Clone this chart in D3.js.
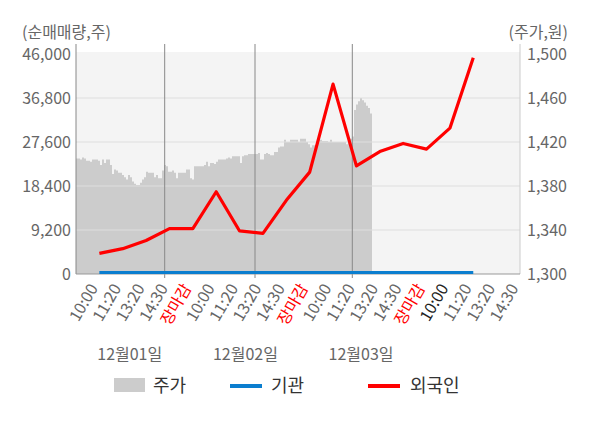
<!DOCTYPE html>
<html>
<head>
  <meta charset="utf-8">
  <script src="https://d3js.org/d3.v7.min.js"></script>
  <title>순매매량 차트</title>
<style>
body {
  margin: 0;
  background: #fff;
}
svg {
  font-family: "Noto Sans CJK KR", "Noto Sans", sans-serif;
}
</style>
</head>
<body>
<script>
// x axis tick labels
var timeLabels = ['10:00', '11:20', '13:20', '14:30', '장마감',
                  '10:00', '11:20', '13:20', '14:30', '장마감',
                  '10:00', '11:20', '13:20', '14:30', '장마감',
                  '10:00', '11:20', '13:20', '14:30'];
var dateLabels = ['12월01일', '12월02일', '12월03일'];
// where the date labels sit, in tick units
var datePos = [1.3, 6.25, 11.2];

var leftTicks = [0, 9200, 18400, 27600, 36800, 46000];
var rightTicks = [1300, 1340, 1380, 1420, 1460, 1500];

// net buying (shares), one value per tick
var foreign = [4300, 5300, 7000, 9500, 9500, 17200, 9000, 8500, 15400, 21300,
               39700, 22600, 25600, 27300, 26100, 30500, 45200];
var institution = [300, 300, 300, 300, 300, 300, 300, 300, 300, 300,
                   300, 300, 300, 300, 300, 300, 300];

// intraday price (won)
var price = [1405, 1405, 1404, 1406, 1405, 1403, 1403, 1402, 1404, 1404,
             1404, 1403, 1399, 1404, 1401, 1404, 1404, 1399, 1391, 1395,
             1394, 1392, 1392, 1390, 1388, 1386, 1390, 1388, 1384, 1382,
             1381, 1381, 1383, 1386, 1388, 1393, 1392, 1392, 1392, 1388,
             1390, 1387, 1387, 1394, 1399, 1398, 1393, 1393, 1394, 1392,
             1387, 1392, 1392, 1392, 1392, 1395, 1395, 1387, 1386, 1398,
             1398, 1398, 1398, 1398, 1399, 1402, 1398, 1401, 1401, 1400,
             1402, 1404, 1404, 1404, 1404, 1405, 1406, 1405, 1407, 1407,
             1407, 1407, 1401, 1407, 1408, 1408, 1409, 1409, 1409, 1409,
             1409, 1410, 1404, 1404, 1409, 1410, 1409, 1408, 1408, 1411,
             1411, 1415, 1416, 1416, 1422, 1420, 1420, 1422, 1422, 1422,
             1422, 1420, 1423, 1423, 1423, 1420, 1418, 1415, 1417, 1417,
             1420, 1423, 1422, 1421, 1421, 1421, 1420, 1422, 1420, 1420,
             1420, 1420, 1420, 1420, 1420, 1418, 1419, 1423, 1425, 1449,
             1454, 1457, 1460, 1458, 1456, 1453, 1451, 1446, 1438];
var priceSlots = 222;
// day boundaries in price index units
var dayBreaks = [44.35, 89.5, 138.15];

var width = 600,
    height = 428;
var plotLeft = 76, plotRight = 520, plotTop = 54, plotBottom = 274;

var svg = d3.select('body').append('svg')
  .attr('width', width)
  .attr('height', height);

var x = d3.scaleLinear().domain([-1, timeLabels.length - 1]).range([plotLeft, plotRight]);
var xp = d3.scaleLinear().domain([0, priceSlots]).range([plotLeft, plotRight]);
var yl = d3.scaleLinear().domain([0, 46000]).range([plotBottom, plotTop]);
var yr = d3.scaleLinear().domain([1300, 1500]).range([plotBottom, plotTop]);

// plot background
svg.append('rect')
  .attr('x', plotLeft)
  .attr('y', 52)
  .attr('width', plotRight - plotLeft)
  .attr('height', plotBottom - 52)
  .style('fill', '#f4f4f4');

// price area
var area = d3.area()
  .x(function (d, i) { return xp(i); })
  .y0(plotBottom)
  .y1(function (d) { return yr(d); })
  .curve(d3.curveStepAfter);

svg.append('path')
  .datum(price)
  .attr('d', area)
  .style('fill', '#cccccc');

// horizontal grid
svg.selectAll('.grid')
  .data(leftTicks.slice(1, -1))
  .enter()
  .append('line')
  .attr('x1', plotLeft)
  .attr('x2', plotRight)
  .attr('y1', function (d) { return yl(d); })
  .attr('y2', function (d) { return yl(d); })
  .style('stroke', '#dddddd')
  .style('stroke-width', 1.2);

// day separators
svg.selectAll('.day')
  .data(dayBreaks)
  .enter()
  .append('line')
  .attr('x1', function (d) { return xp(d); })
  .attr('x2', function (d) { return xp(d); })
  .attr('y1', 44)
  .attr('y2', 278)
  .style('stroke', '#888')
  .style('stroke-width', 1);

// axis lines
svg.append('line')
  .attr('x1', plotLeft).attr('x2', plotLeft)
  .attr('y1', 44).attr('y2', plotBottom)
  .style('stroke', '#888');
svg.append('line')
  .attr('x1', plotRight).attr('x2', plotRight)
  .attr('y1', 44).attr('y2', plotBottom)
  .style('stroke', '#cccccc');
svg.append('line')
  .attr('x1', plotLeft).attr('x2', plotRight)
  .attr('y1', plotBottom).attr('y2', plotBottom)
  .style('stroke', '#999');

// lines
var lineLeft = d3.line()
  .x(function (d, i) { return x(i); })
  .y(function (d) { return yl(d); });

svg.append('path')
  .datum(institution)
  .attr('d', lineLeft)
  .style('fill', 'none')
  .style('stroke', '#0b7ecf')
  .style('stroke-width', 3);

svg.append('path')
  .datum(foreign)
  .attr('d', lineLeft)
  .style('fill', 'none')
  .style('stroke', '#ff0000')
  .style('stroke-width', 3.2)
  .style('stroke-linejoin', 'round');

// y tick labels
svg.selectAll('.ltick')
  .data(leftTicks)
  .enter()
  .append('text')
  .attr('x', 71)
  .attr('y', function (d) { return yl(d); })
  .attr('dy', '0.36em')
  .attr('text-anchor', 'end')
  .style('font-size', '16px')
  .style('fill', '#666')
  .text(function (d) { return d3.format(',')(d); });

svg.selectAll('.rtick')
  .data(rightTicks)
  .enter()
  .append('text')
  .attr('x', 527)
  .attr('y', function (d) { return yr(d); })
  .attr('dy', '0.36em')
  .style('font-size', '16px')
  .style('fill', '#666')
  .text(function (d) { return d3.format(',')(d); });

svg.append('text')
  .attr('x', 22).attr('y', 38)
  .style('font-size', '16px')
  .style('fill', '#666')
  .text('(순매매량,주)');
svg.append('text')
  .attr('x', 568).attr('y', 38)
  .attr('text-anchor', 'end')
  .style('font-size', '16px')
  .style('fill', '#666')
  .text('(주가,원)');

// x tick labels
svg.selectAll('.xtick')
  .data(timeLabels)
  .enter()
  .append('text')
  .attr('transform', function (d, i) {
    return 'translate(' + (x(i) - 1) + ',288) rotate(-60)';
  })
  .attr('text-anchor', 'end')
  .style('font-size', '16px')
  .style('fill', function (d, i) {
    if (d === '장마감') return '#ff0000';
    if (i === 15) return '#222';
    return '#666';
  })
  .text(function (d) { return d; });

svg.selectAll('.date')
  .data(dateLabels)
  .enter()
  .append('text')
  .attr('x', function (d, i) { return x(datePos[i]); })
  .attr('y', 360)
  .attr('text-anchor', 'middle')
  .style('font-size', '16px')
  .style('fill', '#666')
  .text(function (d) { return d; });

// legend
var legend = svg.append('g').style('font-size', '18px').style('fill', '#333');
legend.append('rect')
  .attr('x', 114).attr('y', 378)
  .attr('width', 31).attr('height', 14)
  .style('fill', '#cccccc');
legend.append('text').attr('x', 153).attr('y', 392).text('주가');
legend.append('line')
  .attr('x1', 230).attr('x2', 262)
  .attr('y1', 386).attr('y2', 386)
  .style('stroke', '#0b7ecf').style('stroke-width', 4);
legend.append('text').attr('x', 271).attr('y', 392).text('기관');
legend.append('line')
  .attr('x1', 368).attr('x2', 400)
  .attr('y1', 386).attr('y2', 386)
  .style('stroke', '#ff0000').style('stroke-width', 4);
legend.append('text').attr('x', 410).attr('y', 392).text('외국인');
</script>
</body>
</html>
